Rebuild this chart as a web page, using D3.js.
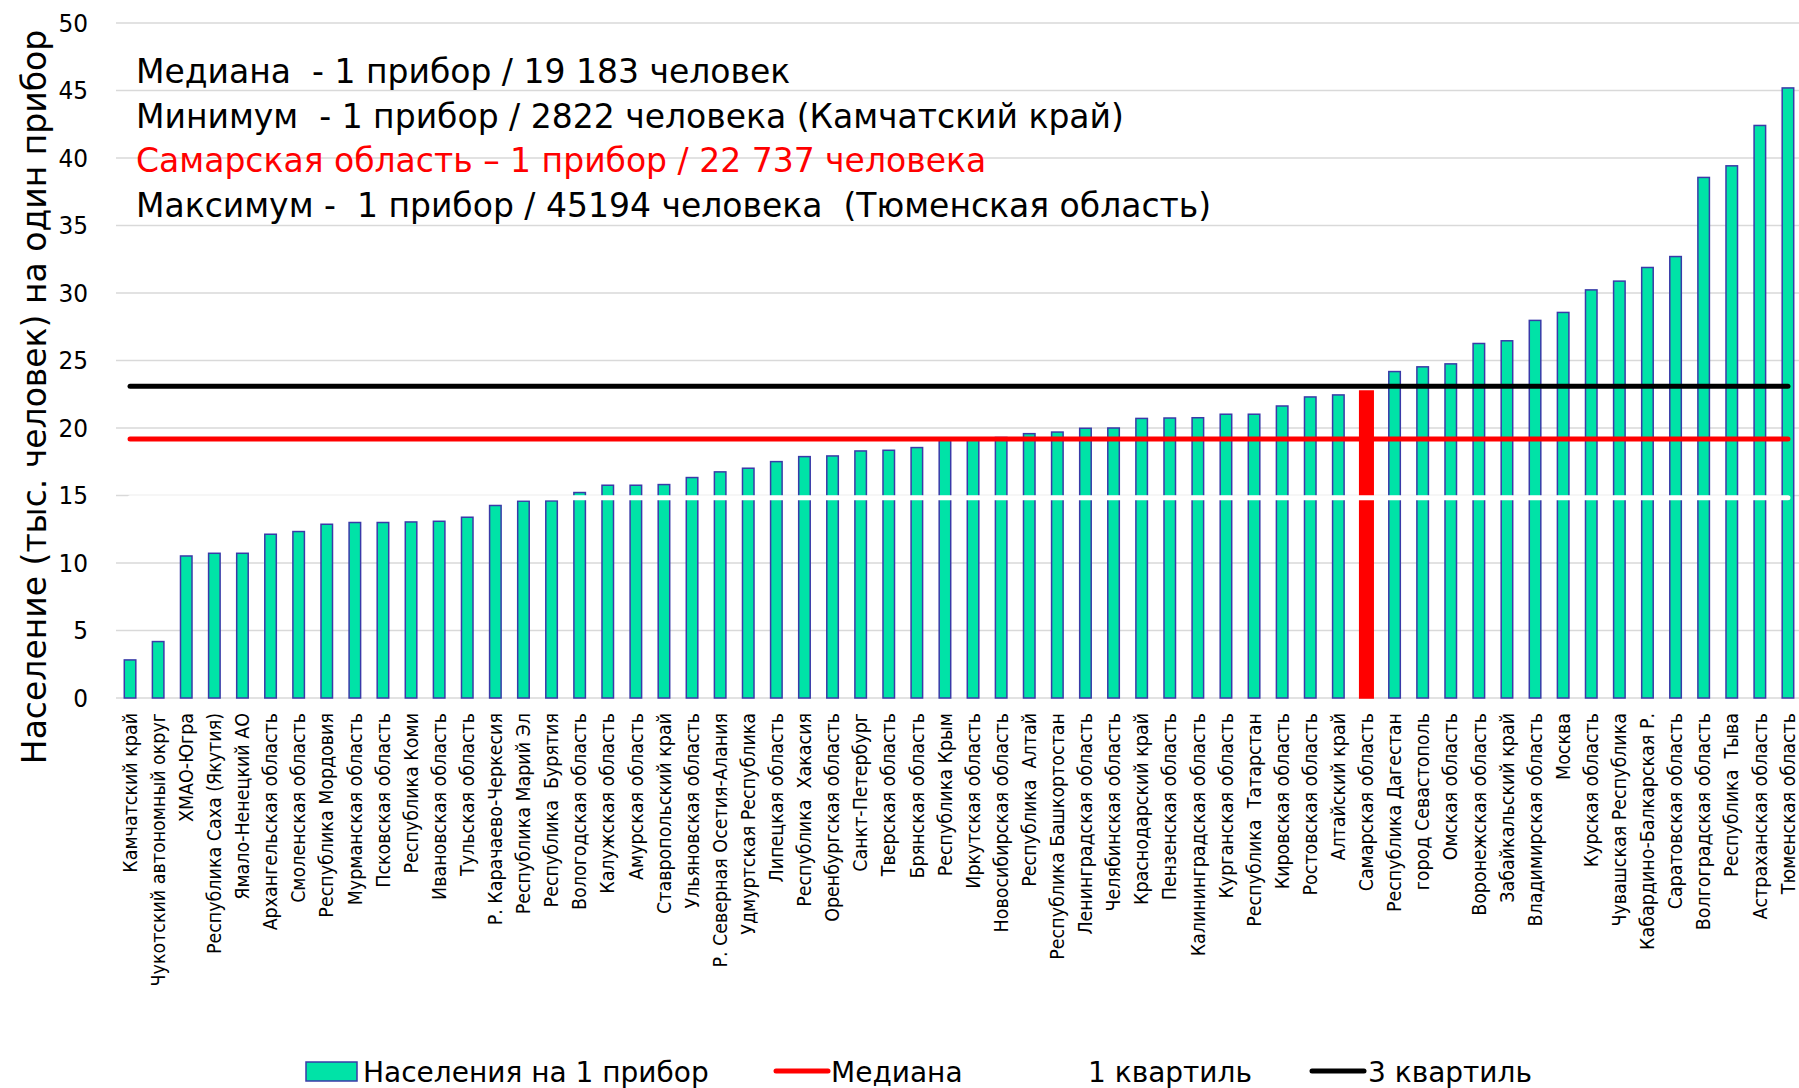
<!DOCTYPE html>
<html>
<head>
<meta charset="utf-8">
<script src="https://cdn.jsdelivr.net/npm/d3@7"></script>
<style>
  body { margin: 0; background: #fff; }
  text { font-family: "DejaVu Sans", sans-serif; fill: #000; }
</style>
</head>
<body>
<svg id="chart"></svg>
<script>
// regions sorted by population per device (thousand people)
var regions = ["Камчатский край","Чукотский автономный округ","ХМАО-Югра","Республика Саха (Якутия)","Ямало-Ненецкий АО",
  "Архангельская область","Смоленская область","Республика Мордовия","Мурманская область","Псковская область",
  "Республика Коми","Ивановская область","Тульская область","Р. Карачаево-Черкесия","Республика Марий Эл",
  "Республика  Бурятия","Вологодская область","Калужская область","Амурская область","Ставропольский край",
  "Ульяновская область","Р. Северная Осетия-Алания","Удмуртская Республика","Липецкая область","Республика  Хакасия",
  "Оренбургская область","Санкт-Петербург","Тверская область","Брянская область","Республика Крым",
  "Иркутская область","Новосибирская область","Республика  Алтай","Республика Башкортостан","Ленинградская область",
  "Челябинская область","Краснодарский край","Пензенская область","Калининградская область","Курганская область",
  "Республика  Татарстан","Кировская область","Ростовская область","Алтайский край","Самарская область",
  "Республика Дагестан","город Севастополь","Омская область","Воронежская область","Забайкальский край",
  "Владимирская область","Москва","Курская область","Чувашская Республика","Кабардино-Балкарская Р.",
  "Саратовская область","Волгоградская область","Республика  Тыва","Астраханская область","Тюменская область"];

var values = [2.82, 4.18, 10.52, 10.72, 10.72, 12.13, 12.33, 12.87, 13.0, 13.0,
  13.04, 13.09, 13.39, 14.26, 14.58, 14.6, 15.22, 15.76, 15.76, 15.81,
  16.33, 16.75, 17.02, 17.51, 17.88, 17.93, 18.3, 18.35, 18.55, 19.15,
  19.22, 19.3, 19.58, 19.7, 19.98, 20.0, 20.71, 20.74, 20.76, 21.02,
  21.02, 21.63, 22.3, 22.45, 22.74, 24.18, 24.53, 24.75, 26.26, 26.46,
  27.97, 28.56, 30.23, 30.88, 31.89, 32.7, 38.56, 39.42, 42.41, 45.19];

var highlight = "Самарская область";
var median = 19.183, quart1 = 14.84, quart3 = 23.1;
var yTicks = [0, 5, 10, 15, 20, 25, 30, 35, 40, 45, 50];

var notes = ["Медиана  - 1 прибор / 19 183 человек",
  "Минимум  - 1 прибор / 2822 человека (Камчатский край)",
  "Самарская область – 1 прибор / 22 737 человека",
  "Максимум -  1 прибор / 45194 человека  (Тюменская область)"];
var noteColors = ["#000", "#000", "#ff0000", "#000"];

var legendItems = ["Населения на 1 прибор", "Медиана", "1 квартиль", "3 квартиль"];

var W = 1799, H = 1088;
var svg = d3.select("#chart").attr("width", W).attr("height", H);
svg.append("rect").attr("width", W).attr("height", H).attr("fill", "#fff");

var x = d3.scaleBand().domain(regions).range([116, 1802]).paddingInner(0.59).paddingOuter(0.295);
var y = d3.scaleLinear().domain([0, 50]).range([698, 23]);

// squeeze DejaVu a bit so it reads like Tahoma
function squeeze(sel, k) {
  sel.each(function() {
    var len = this.getComputedTextLength();
    d3.select(this).attr("textLength", len * k).attr("lengthAdjust", "spacingAndGlyphs");
  });
}

// grid
svg.append("g").selectAll("line").data(yTicks).enter().append("line")
  .attr("x1", 116).attr("x2", W)
  .attr("y1", d => y(d)).attr("y2", d => y(d))
  .attr("stroke", "#d9d9d9").attr("stroke-width", 1.5);

// y axis labels
var yAxis = svg.append("g").attr("transform", "translate(92,0)")
  .call(d3.axisLeft(y).tickValues(yTicks).tickSize(0).tickPadding(4));
yAxis.select(".domain").remove();
yAxis.selectAll("text").style("font-family", "DejaVu Sans").style("font-size", "25px").attr("fill", "#000");
squeeze(yAxis.selectAll("text"), 0.93);

// y title
svg.append("text")
  .attr("transform", "translate(34,397) rotate(-90)")
  .attr("text-anchor", "middle").attr("dy", "0.35em")
  .style("font-size", "33px")
  .text("Население (тыс. человек) на один прибор");

// bars
var data = regions.map((r, i) => ({name: r, value: values[i]}));
svg.append("g").selectAll("rect").data(data).enter().append("rect")
  .attr("x", d => d.name === highlight ? x(d.name) - 1 : x(d.name))
  .attr("width", d => d.name === highlight ? x.bandwidth() + 2 : x.bandwidth())
  .attr("y", d => y(d.value))
  .attr("height", d => y(0) - y(d.value))
  .attr("fill", d => d.name === highlight ? "#ff0000" : "#00e3a7")
  .attr("stroke", d => d.name === highlight ? "#ff0000" : "#3a3aa8")
  .attr("stroke-width", 1.5);

// category labels
var cat = svg.append("g").selectAll("text").data(regions).enter().append("text")
  .attr("transform", d => "translate(" + (x(d) + x.bandwidth() / 2) + ",713) rotate(-90)")
  .attr("text-anchor", "end").attr("dy", "0.35em")
  .style("font-size", "19px").style("white-space", "pre")
  .text(d => d);
squeeze(cat, 0.92);

// quartile / median lines
var x0 = x(regions[0]) + x.bandwidth() / 2, x1 = x(regions[regions.length - 1]) + x.bandwidth() / 2;
var refLines = [{v: quart1, c: "#ffffff"}, {v: median, c: "#ff0000"}, {v: quart3, c: "#000000"}];
svg.append("g").selectAll("line").data(refLines).enter().append("line")
  .attr("x1", x0).attr("x2", x1)
  .attr("y1", d => y(d.v)).attr("y2", d => y(d.v))
  .attr("stroke", d => d.c).attr("stroke-width", 5).attr("stroke-linecap", "round");

// annotations
svg.append("g").selectAll("text").data(notes).enter().append("text")
  .attr("x", 136).attr("y", (d, i) => 83 + i * 44.7)
  .style("font-size", "33px").style("white-space", "pre")
  .style("fill", (d, i) => noteColors[i])
  .text(d => d);

// legend
var lg = svg.append("g").attr("transform", "translate(0,1071)");
lg.append("rect").attr("x", 306).attr("y", -9).attr("width", 51).attr("height", 19)
  .attr("fill", "#00e3a7").attr("stroke", "#3a3aa8").attr("stroke-width", 1.5);
var swatches = [{x: 776, c: "#ff0000"}, {x: 1031, c: "#ffffff"}, {x: 1312, c: "#000000"}];
lg.selectAll("line.sw").data(swatches).enter().append("line").attr("class", "sw")
  .attr("x1", d => d.x).attr("x2", d => d.x + 52).attr("y1", 0).attr("y2", 0)
  .attr("stroke", d => d.c).attr("stroke-width", 5).attr("stroke-linecap", "round");
var legX = [363, 831, 1088, 1368];
lg.selectAll("text").data(legendItems).enter().append("text")
  .attr("x", (d, i) => legX[i]).attr("y", 11)
  .style("font-size", "28px")
  .text(d => d);
</script>
</body>
</html>
